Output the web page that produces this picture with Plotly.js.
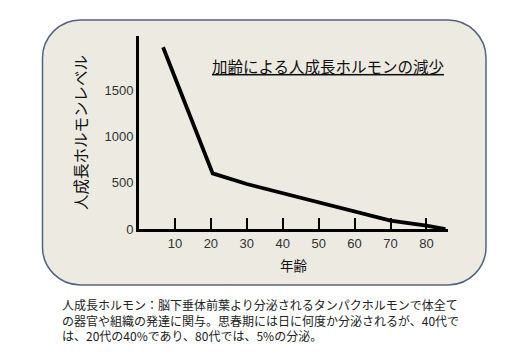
<!DOCTYPE html>
<html>
<head>
<meta charset="utf-8">
<script src="https://cdn.plot.ly/plotly-3.0.1.min.js"></script>
<style>
  html, body { margin: 0; padding: 0; background: #ffffff; }
  #chart { width: 532px; height: 353px; }
</style>
</head>
<body>
<div id="chart"></div>
<script>
// ---- data ----
const ages = [6.7, 20.5, 30, 40, 50, 60, 70, 80, 85.3];
const hormoneLevel = [1960, 600, 485, 385, 290, 180, 90, 36, 0];
const xTickValues = [10, 20, 30, 40, 50, 60, 70, 80];
const xTickLabels = ["10", "20", "30", "40", "50", "60", "70", "80"];
const yTickValues = [0, 500, 1000, 1500];
const yTickLabels = ["0", "500", "1000", "1500"];
const chartTitle = "加齢による人成長ホルモンの減少";
const xTitle = "年齢";
const yTitle = "人成長ホルモンレベル";
const captionLines = [
  "人成長ホルモン：脳下垂体前葉より分泌されるタンパクホルモンで体全て",
  "の器官や組織の発達に関与。思春期には日に何度か分泌されるが、40代で",
  "は、20代の40%であり、80代では、5%の分泌。"
];

// ---- layout geometry (pixels) ----
const W = 532, H = 353;
const M = { l: 139, r: 84, t: 36, b: 124 };
const plotW = W - M.l - M.r, plotH = H - M.t - M.b;
const px2x = px => (px - M.l) / plotW;
const px2y = py => (H - M.b - py) / plotH;

// rounded background box
const box = { x0: 42.5, x1: 486, y0: 20, y1: 285, r: 38 };
function roundedRectPath(b) {
  const k = 0.5523;
  const X = px2x, Y = px2y;
  const p = [];
  p.push(`M ${X(b.x0 + b.r)},${Y(b.y0)}`);
  p.push(`L ${X(b.x1 - b.r)},${Y(b.y0)}`);
  p.push(`C ${X(b.x1 - b.r + b.r * k)},${Y(b.y0)} ${X(b.x1)},${Y(b.y0 + b.r - b.r * k)} ${X(b.x1)},${Y(b.y0 + b.r)}`);
  p.push(`L ${X(b.x1)},${Y(b.y1 - b.r)}`);
  p.push(`C ${X(b.x1)},${Y(b.y1 - b.r + b.r * k)} ${X(b.x1 - b.r + b.r * k)},${Y(b.y1)} ${X(b.x1 - b.r)},${Y(b.y1)}`);
  p.push(`L ${X(b.x0 + b.r)},${Y(b.y1)}`);
  p.push(`C ${X(b.x0 + b.r - b.r * k)},${Y(b.y1)} ${X(b.x0)},${Y(b.y1 - b.r + b.r * k)} ${X(b.x0)},${Y(b.y1 - b.r)}`);
  p.push(`L ${X(b.x0)},${Y(b.y0 + b.r)}`);
  p.push(`C ${X(b.x0)},${Y(b.y0 + b.r - b.r * k)} ${X(b.x0 + b.r - b.r * k)},${Y(b.y0)} ${X(b.x0 + b.r)},${Y(b.y0)}`);
  p.push("Z");
  return p.join(" ");
}

const sansFont = "Liberation Sans, Arial, sans-serif";
const cjkFont = "Noto Sans CJK JP, sans-serif";

const trace = {
  type: "scatter",
  mode: "lines",
  x: ages,
  y: hormoneLevel,
  line: { color: "#000000", width: 3.8 },
  hoverinfo: "x+y",
  showlegend: false
};

const layout = {
  width: W,
  height: H,
  margin: M,
  paper_bgcolor: "#ffffff",
  plot_bgcolor: "rgba(0,0,0,0)",
  showlegend: false,
  title: {
    text: "<u>" + chartTitle + "</u>",
    font: { family: cjkFont, size: 15.5, color: "#111111" },
    x: 328 / W,
    xanchor: "center",
    y: 1 - 67.5 / H,
    yanchor: "middle"
  },
  xaxis: {
    range: [0, 86],
    showgrid: false,
    zeroline: false,
    showline: true,
    linecolor: "#000000",
    linewidth: 3,
    ticks: "inside",
    ticklen: 11,
    tickwidth: 2,
    tickcolor: "#000000",
    tickvals: xTickValues,
    ticktext: xTickLabels,
    tickfont: { family: sansFont, size: 13, color: "#333333" },
    title: {
      text: xTitle,
      font: { family: cjkFont, size: 13.5, color: "#111111" },
      standoff: 12
    },
    fixedrange: true
  },
  yaxis: {
    range: [0, 2082],
    showgrid: false,
    zeroline: false,
    showline: true,
    linecolor: "#000000",
    linewidth: 3,
    ticks: "",
    tickvals: yTickValues,
    ticktext: yTickLabels,
    tickfont: { family: sansFont, size: 13, color: "#333333" },
    title: {
      text: yTitle,
      font: { family: cjkFont, size: 15.5, color: "#111111" },
      standoff: 14
    },
    fixedrange: true
  },
  shapes: [
    {
      type: "path",
      xref: "paper",
      yref: "paper",
      path: roundedRectPath(box),
      fillcolor: "#ECEAE1",
      line: { color: "#53647F", width: 1.5 },
      layer: "below"
    }
  ],
  annotations: [
    {
      xref: "paper",
      yref: "paper",
      x: px2x(60),
      y: px2y(319.5),
      xanchor: "left",
      yanchor: "middle",
      align: "left",
      showarrow: false,
      text: captionLines.join("<br>"),
      font: { family: cjkFont, size: 12, color: "#222222" }
    }
  ]
};

Plotly.newPlot("chart", [trace], layout, { displayModeBar: false, staticPlot: true });
</script>
</body>
</html>
